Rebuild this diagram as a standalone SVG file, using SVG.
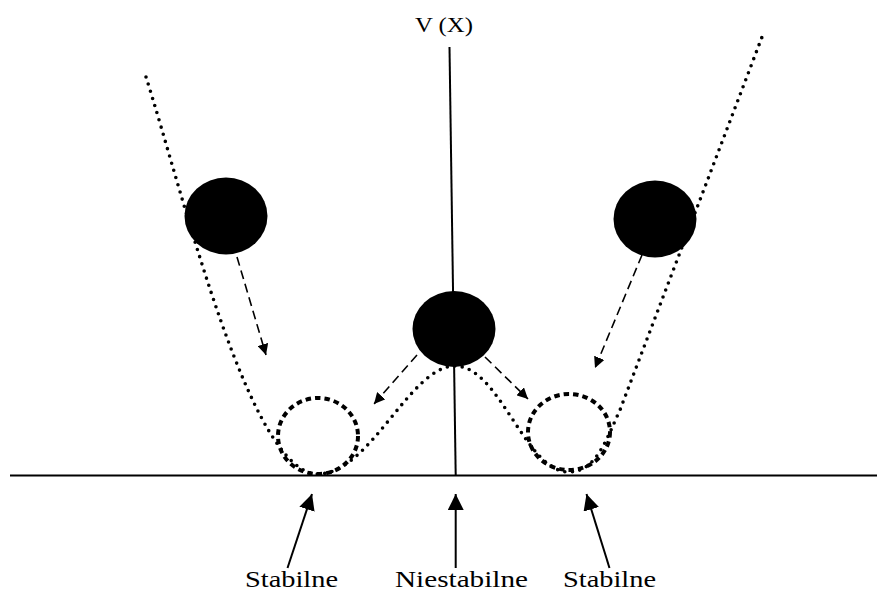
<svg xmlns="http://www.w3.org/2000/svg" width="887" height="593" viewBox="0 0 887 593">
<defs>
<marker id="ah" viewBox="0 0 10 10" refX="10" refY="5" markerWidth="11" markerHeight="11" markerUnits="userSpaceOnUse" orient="auto"><path d="M0,0 L10,5 L0,10 z" fill="#000"/></marker>
<marker id="ahb" viewBox="0 0 10 10" refX="10" refY="5" markerWidth="16" markerHeight="16" markerUnits="userSpaceOnUse" orient="auto"><path d="M0,0 L10,5 L0,10 z" fill="#000"/></marker>
</defs>
<style>
.axis{stroke:#000;stroke-width:2;fill:none}
.pot{stroke:#000;stroke-width:3.6;fill:none;stroke-dasharray:0 7.5;stroke-linecap:round}
.ball{fill:#000}
.ghost{fill:none;stroke:#000;stroke-width:4;stroke-dasharray:5.5 4}
.dash{stroke:#000;stroke-width:1.6;fill:none;stroke-dasharray:9 5;marker-end:url(#ah)}
.solid{stroke:#000;stroke-width:2;fill:none;marker-end:url(#ahb)}
.lbl{font-family:"Liberation Serif","DejaVu Serif",serif;fill:#000}
</style>
<g id="axes">
<line class="axis" x1="10" y1="475.5" x2="877" y2="475.5"/>
<line class="axis" x1="449.5" y1="47" x2="455.7" y2="475.5"/>
<text class="lbl" x="415" y="32" font-size="21" textLength="58" lengthAdjust="spacingAndGlyphs">V (X)</text>
</g>
<g id="potential">
<path class="pot" d="M146,77 C185,200 250,474 318,474 C370,474 410,366 455,366 C500,366 525,472 569,472 C596,472 606,440 620,410 L762,37"/>
</g>
<g id="stable-left">
<ellipse class="ghost" cx="318" cy="436" rx="40" ry="38"/>
</g>
<g id="stable-right">
<ellipse class="ghost" cx="569" cy="432" rx="41" ry="38"/>
</g>
<g id="ball-left"><ellipse class="ball" cx="226" cy="216" rx="41.5" ry="38.5"/></g>
<g id="ball-center"><ellipse class="ball" cx="454" cy="329" rx="41.5" ry="38"/></g>
<g id="ball-right"><ellipse class="ball" cx="655" cy="219" rx="41.5" ry="38.5"/></g>
<g id="connectors">
<line class="dash" x1="237" y1="257" x2="266" y2="355"/>
<line class="dash" x1="417" y1="355" x2="374" y2="404"/>
<line class="dash" x1="485" y1="357" x2="528" y2="399"/>
<line class="dash" x1="642" y1="255" x2="595" y2="368"/>
<line class="solid" x1="287.5" y1="568" x2="312" y2="494"/>
<line class="solid" x1="455.7" y1="568" x2="455.7" y2="494"/>
<line class="solid" x1="609.5" y1="568" x2="586.5" y2="494"/>
</g>
<g id="labels">
<text class="lbl" x="245" y="587" font-size="23" textLength="93" lengthAdjust="spacingAndGlyphs">Stabilne</text>
<text class="lbl" x="395" y="587" font-size="23" textLength="133" lengthAdjust="spacingAndGlyphs">Niestabilne</text>
<text class="lbl" x="563" y="587" font-size="23" textLength="93" lengthAdjust="spacingAndGlyphs">Stabilne</text>
</g>
</svg>
